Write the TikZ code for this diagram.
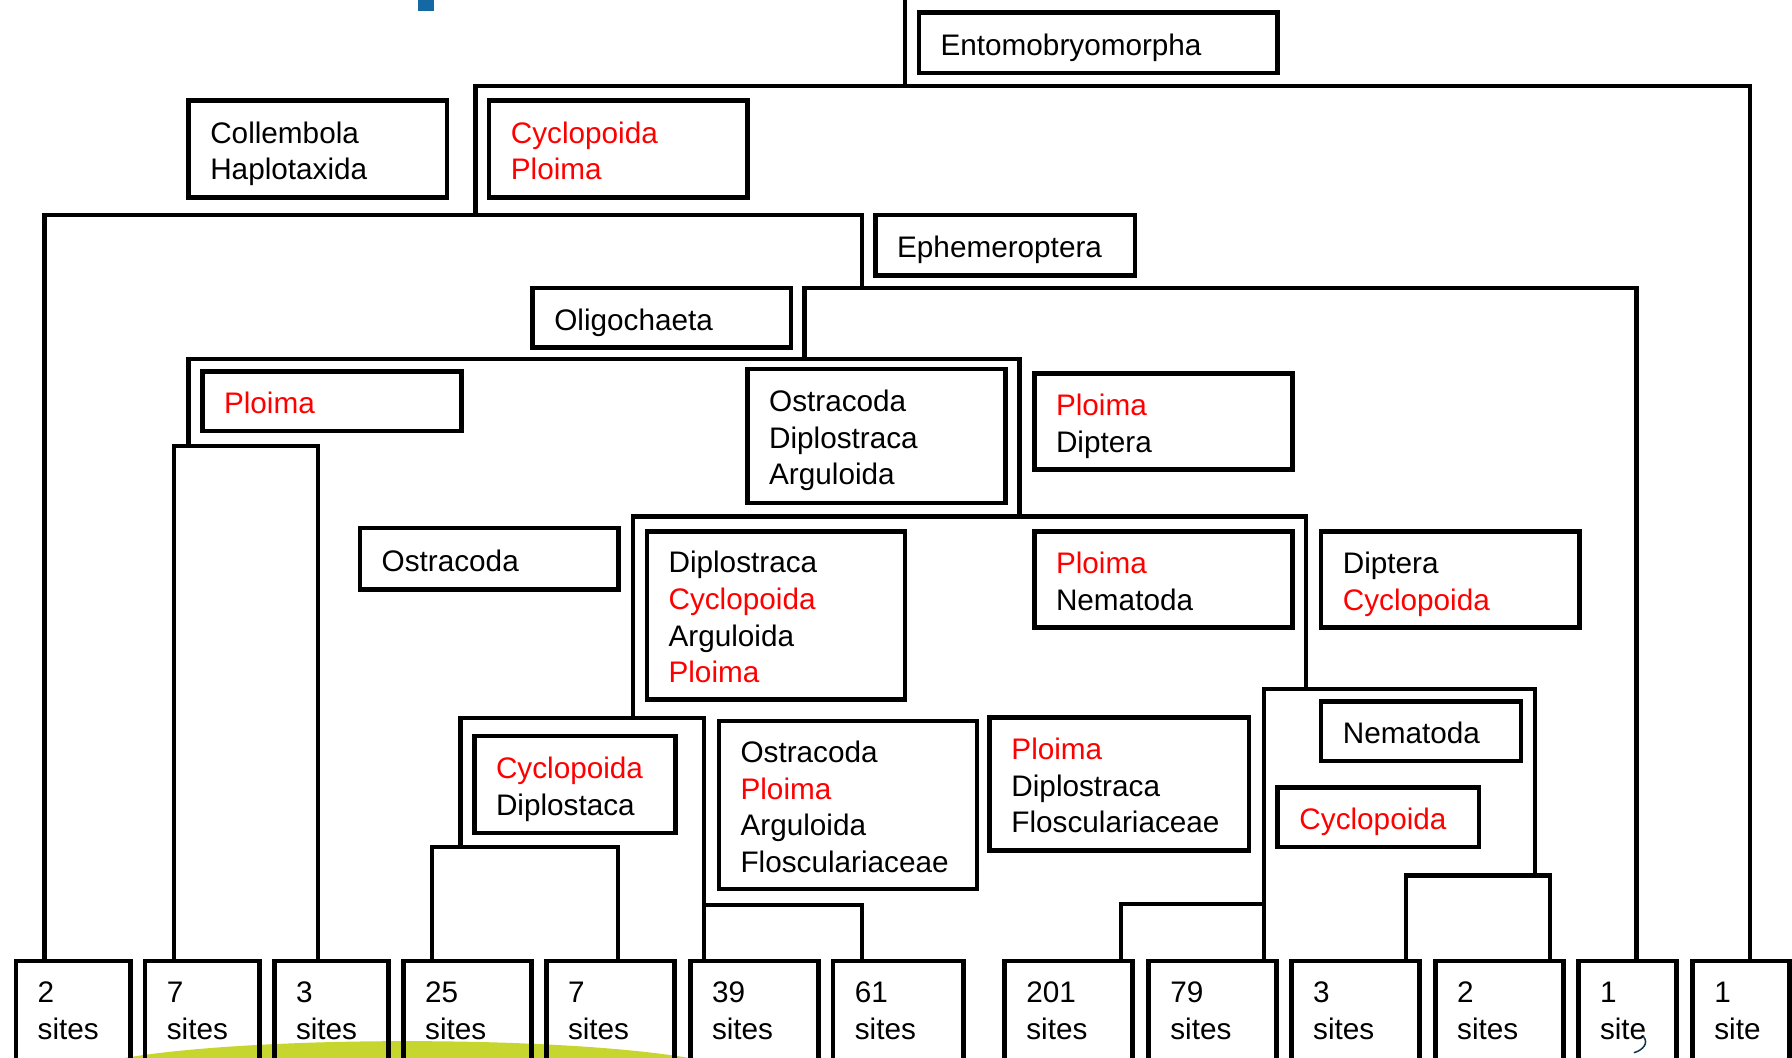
\documentclass[tikz,border=0pt]{standalone}
\usepackage{fontspec}
\setmainfont{Liberation Sans}
\definecolor{leafgreen}{RGB}{199,214,46}
\definecolor{markblue}{RGB}{20,105,165}
\newcommand{\redtx}[1]{\textcolor{red}{#1}}

\begin{document}
\begin{tikzpicture}[x=1pt,y=-1pt,
  framed/.style={draw, line width=4pt, rectangle, anchor=north west,
    inner xsep=0pt, inner ysep=0pt, outer sep=0pt, align=left,
    font=\fontsize{26}{32}\selectfont},
  box/.style={framed,
    execute at begin node={\rule{0pt}{27.6pt}},
    execute at end node={\rule[-6pt]{0pt}{6pt}}},
  leaf/.style={framed, minimum height=87pt},
  tree/.style={line width=3.7pt, line cap=rect, line join=miter}]

\useasboundingbox (0,0) rectangle (1568,925);
\fill[white] (0,0) rectangle (1568,925);
\clip (0,0) rectangle (1568,925);

% slide decorations
\fill[markblue] (366,0) rectangle (380,10);
\fill[leafgreen] (356,942) ellipse [x radius=290, y radius=31];

% labelled boxes
\node[box, minimum width=314pt, minimum height=53pt, text width=276pt] (ento) at (804,11) {Entomobryomorpha};
\node[box, minimum width=226pt, minimum height=85pt, text width=188pt] (colhap) at (165,88) {Collembola\\Haplotaxida};
\node[box, minimum width=226pt, minimum height=85pt, text width=188pt] (cycplo) at (428,88) {\redtx{Cyclopoida}\\\redtx{Ploima}};
\node[box, minimum width=227pt, minimum height=53pt, text width=189pt] (ephem) at (766,188) {Ephemeroptera};
\node[box, minimum width=226pt, minimum height=52pt, text width=188pt] (oligo) at (466,252) {Oligochaeta};
\node[box, minimum width=227pt, minimum height=52pt, text width=189pt] (ploa) at (177,325) {\redtx{Ploima}};
\node[box, minimum width=226pt, minimum height=117pt, text width=188pt] (ostdip) at (654,323) {Ostracoda\\Diplostraca\\Arguloida};
\node[box, minimum width=226pt, minimum height=84pt, text width=188pt] (plodip) at (905,327) {\redtx{Ploima}\\Diptera};
\node[box, minimum width=226pt, minimum height=54pt, text width=188pt] (ostra) at (315,462) {Ostracoda};
\node[box, minimum width=226pt, minimum height=147pt, text width=188pt] (dipcycarg) at (566,465) {Diplostraca\\\redtx{Cyclopoida}\\Arguloida\\\redtx{Ploima}};
\node[box, minimum width=226pt, minimum height=84pt, text width=188pt] (plonem) at (905,465) {\redtx{Ploima}\\Nematoda};
\node[box, minimum width=226pt, minimum height=84pt, text width=188pt] (dipcyc) at (1156,465) {Diptera\\\redtx{Cyclopoida}};
\node[box, minimum width=175pt, minimum height=52pt, text width=137pt] (nema) at (1156,614) {Nematoda};
\node[box, minimum width=176pt, minimum height=52pt, text width=138pt] (cycb) at (1118,689) {\redtx{Cyclopoida}};
\node[box, minimum width=176pt, minimum height=85pt, text width=138pt] (cycdip) at (415,644) {\redtx{Cyclopoida}\\Diplostaca};
\node[box, minimum width=226pt, minimum height=147pt, text width=188pt] (ostploarg) at (629,631) {Ostracoda\\\redtx{Ploima}\\Arguloida\\Flosculariaceae};
\node[box, minimum width=227pt, minimum height=116pt, text width=189pt] (plodipflo) at (866,628) {\redtx{Ploima}\\Diplostraca\\Flosculariaceae};

% site groups
\node[leaf, minimum width=100pt, text width=62pt] (l1) at (14,841) {2\\sites};
\node[leaf, minimum width=100pt, text width=62pt] (l2) at (127,841) {7\\sites};
\node[leaf, minimum width=100pt, text width=62pt] (l3) at (240,841) {3\\sites};
\node[leaf, minimum width=112pt, text width=74pt] (l4) at (353,841) {25\\sites};
\node[leaf, minimum width=112pt, text width=74pt] (l5) at (478,841) {7\\sites};
\node[leaf, minimum width=112pt, text width=74pt] (l6) at (604,841) {39\\sites};
\node[leaf, minimum width=114pt, text width=76pt] (l7) at (729,841) {61\\sites};
\node[leaf, minimum width=112pt, text width=74pt] (l8) at (879,841) {201\\sites};
\node[leaf, minimum width=112pt, text width=74pt] (l9) at (1005,841) {79\\sites};
\node[leaf, minimum width=112pt, text width=74pt] (l10) at (1130,841) {3\\sites};
\node[leaf, minimum width=112pt, text width=74pt] (l11) at (1256,841) {2\\sites};
\node[leaf, minimum width=86pt, text width=48pt] (l12) at (1381,841) {1\\site};
\node[leaf, minimum width=85pt, text width=47pt] (l13) at (1481,841) {1\\site};

% attachment points on top of the site boxes
\coordinate (a1) at (39,841);
\coordinate (a2) at (152,841);
\coordinate (a3) at (278,841);
\coordinate (a4) at (378,841);
\coordinate (a5) at (541,841);
\coordinate (a6) at (616,841);
\coordinate (a7) at (754,841);
\coordinate (a8) at (981,841);
\coordinate (a9) at (1106,841);
\coordinate (a10) at (1230,841);
\coordinate (a11) at (1356,841);
\coordinate (a12) at (1432,841);
\coordinate (a13) at (1531,841);

% branching points
\coordinate (top) at (792,-5);
\coordinate (n0) at (792,75);
\coordinate (n1) at (416,188);
\coordinate (n2) at (754,252);
\coordinate (n3) at (704,314);
\coordinate (n4) at (165,390);
\coordinate (n5) at (892,452);
\coordinate (n6) at (554,628);
\coordinate (n7) at (403,741);
\coordinate (n8) at (616,792);
\coordinate (n9) at (1143,603);
\coordinate (n10) at (1106,791);
\coordinate (n11) at (1343,766);

% dendrogram
\draw[tree] (top) -- (n0);
\draw[tree] (n1) -- (n1 |- n0) -- (n0 -| a13) -- (a13);
\draw[tree] (a1) -- (a1 |- n1) -- (n1 -| n2) -- (n2);
\draw[tree] (n3) -- (n3 |- n2) -- (n2 -| a12) -- (a12);
\draw[tree] (n4) -- (n4 |- n3) -- (n3 -| n5) -- (n5);
\draw[tree] (a2) -- (a2 |- n4) -- (n4 -| a3) -- (a3);
\draw[tree] (n6) -- (n6 |- n5) -- (n5 -| n9) -- (n9);
\draw[tree] (n7) -- (n7 |- n6) -- (n6 -| n8) -- (n8);
\draw[tree] (a4) -- (a4 |- n7) -- (n7 -| a5) -- (a5);
\draw[tree] (a6) -- (a6 |- n8) -- (n8 -| a7) -- (a7);
\draw[tree] (n10) -- (n10 |- n9) -- (n9 -| n11) -- (n11);
\draw[tree] (a8) -- (a8 |- n10) -- (n10 -| a9) -- (a9);
\draw[tree] (a10) -- (a10 |- n11) -- (n11 -| a11) -- (a11);

% small pen stroke below the last-but-one box
\draw[line width=1.3pt, markblue!50!black, line cap=round] (1438,907) .. controls (1443,913) and (1437,919) .. (1430,921);
\end{tikzpicture}
\end{document}
